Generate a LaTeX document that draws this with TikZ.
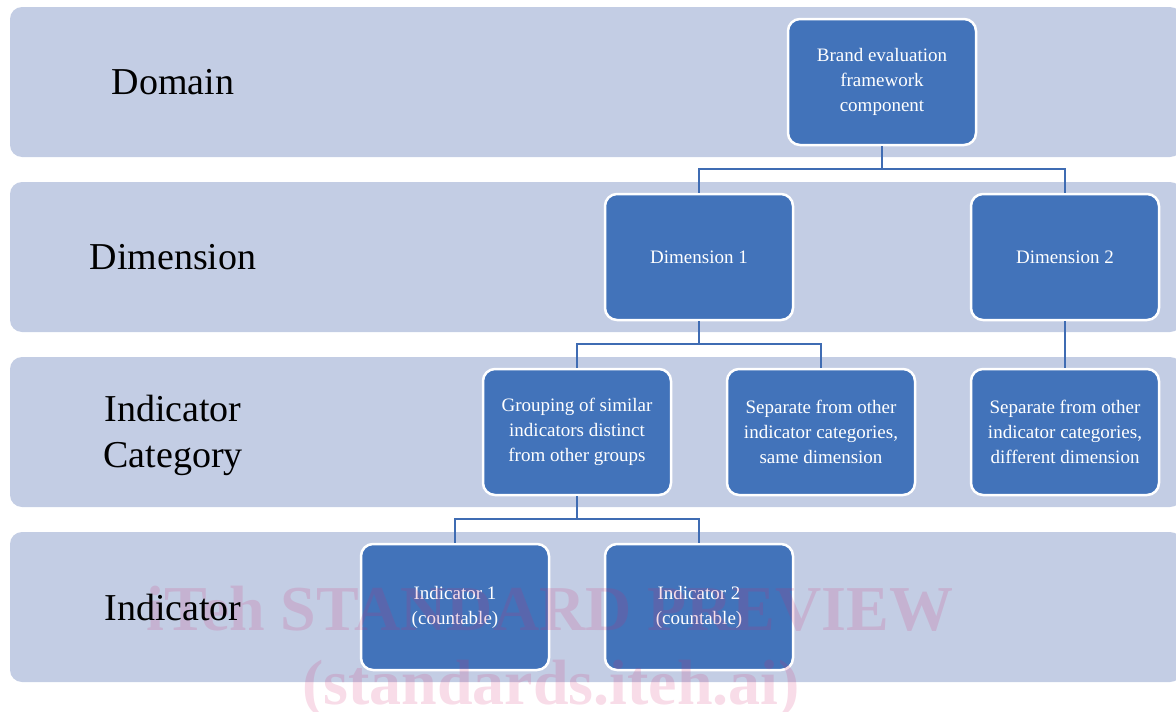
\documentclass[tikz,border=0pt]{standalone}
\usepackage{fontspec}
\setmainfont{Liberation Serif}
\definecolor{bandc}{HTML}{C3CDE4}
\definecolor{boxc}{HTML}{4273BA}
\definecolor{linec}{HTML}{3F6CB3}
\definecolor{wmc}{HTML}{D2286E}
\begin{document}
\begin{tikzpicture}[x=1pt,y=-1pt,
  band/.style={fill=bandc, rounded corners=12pt},
  box/.style={draw=white, line width=2.5pt, fill=boxc, rounded corners=12pt,
    minimum width=188pt, minimum height=126pt, text=white, align=center,
    inner sep=0pt, font=\fontsize{19}{25}\selectfont},
  lab/.style={font=\fontsize{38}{46}\selectfont, align=center},
  conn/.style={draw=linec, line width=2.6pt},
  wm/.style={font=\bfseries\fontsize{64}{64}\selectfont, text=wmc, text opacity=0.16, anchor=base}]
\useasboundingbox (0,0) rectangle (1176,712);
% bands
\fill[band] (10,7) rectangle (1182,157);
\fill[band] (10,182) rectangle (1182,332);
\fill[band] (10,357) rectangle (1182,507);
\fill[band] (10,532) rectangle (1182,682);
% boxes
\node[box] (brand) at (882,82) {Brand evaluation\\framework\\component};
\node[box] (dim1) at (699,257) {Dimension 1};
\node[box] (dim2) at (1065,257) {Dimension 2};
\node[box] (grp) at (577,432) {Grouping of similar\\indicators distinct\\from other groups};
\node[box] (sep1) at (821,432) {Separate from other\\indicator categories,\\same dimension};
\node[box] (sep2) at (1065,432) {Separate from other\\indicator categories,\\different dimension};
\node[box] (ind1) at (455,607) {Indicator 1\\(countable)};
\node[box] (ind2) at (699,607) {Indicator 2\\(countable)};
% junction points
\coordinate (j1) at (882,169);
\coordinate (j2) at (699,344);
\coordinate (j3) at (577,519);
% connectors
\draw[conn] (brand.south) -- (j1) -| (dim1.north);
\draw[conn] (j1) -| (dim2.north);
\draw[conn] (dim1.south) -- (j2) -| (grp.north);
\draw[conn] (j2) -| (sep1.north);
\draw[conn] (dim2.south) -- (sep2.north);
\draw[conn] (grp.south) -- (j3) -| (ind1.north);
\draw[conn] (j3) -| (ind2.north);
% watermark
\node[wm] (wm1) at (550,630) {iTeh STANDARD PREVIEW};
\node[wm] (wm2) at (551,704) {(standards.iteh.ai)};
% level labels
\node[lab] (ldom) at (173,82) {Domain};
\node[lab] (ldim) at (173,257) {Dimension};
\node[lab] (lcat) at (173,435) {Indicator\\Category};
\node[lab] (lind) at (173,607) {Indicator};
\end{tikzpicture}
\end{document}
